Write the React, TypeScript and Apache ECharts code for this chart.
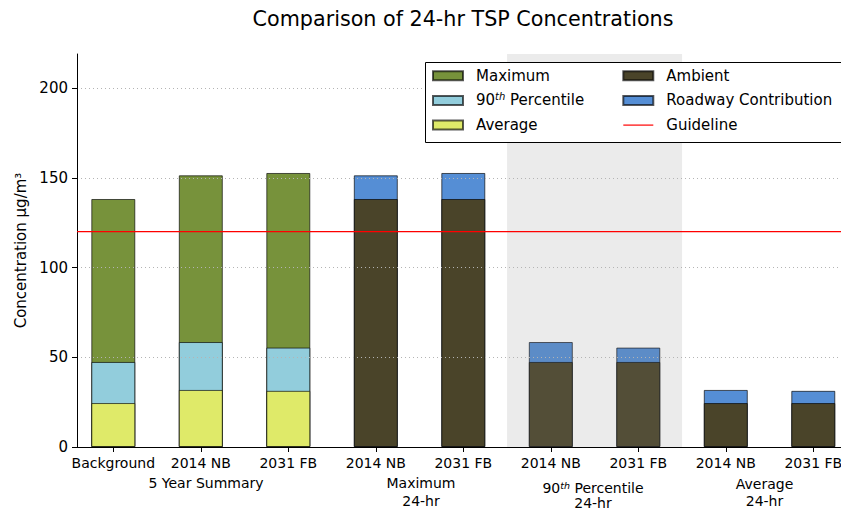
import React, { useEffect, useRef } from 'react';
import * as echarts from 'echarts';

const categories = ['Background', '2014 NB', '2031 FB', '2014 NB', '2031 FB', '2014 NB', '2031 FB', '2014 NB', '2031 FB'];
const summaryPositions = [0, 1, 2];
const summaryAverage = [24.5, 31.8, 31.3];
const summaryP90 = [47.4, 58.5, 55.4];
const summaryMaximum = [138.2, 151.4, 152.7];
const scenarioPositions = [3, 4, 5, 6, 7, 8];
const ambient = [138.2, 138.2, 47.4, 47.4, 24.5, 24.5];
const roadwayContribution = [13.2, 14.5, 11.1, 8.0, 7.3, 6.8];
const guidelineValue = 120;
const yTicks = [0, 50, 100, 150, 200];
const shadedSpan = [4.5, 6.5];
const xExtent = [-0.415, 8.415];

const FONT = 'DejaVu Sans';
const EDGE = 'rgba(0,0,0,0.65)';
const BAR_W = 44;
const RED = '#ff0000';

export default function App() {
  const ref = useRef<HTMLDivElement>(null);

  useEffect(() => {
    if (!ref.current) return;
    const chart = echarts.init(ref.current, null, { renderer: 'svg' });

    const pairs = (xs: number[], ys: number[]) => xs.map((x, i) => [x, ys[i]]);
    const roadwayTops = ambient.map((a, i) => +(a + roadwayContribution[i]).toFixed(2));

    const barBase = (name: string, color: string, data: number[][]) => ({
      name,
      type: 'bar',
      data,
      barWidth: BAR_W,
      barGap: '-100%',
      itemStyle: { color, borderColor: EDGE, borderWidth: 1 },
      emphasis: { disabled: true },
    });

    const legendText = {
      fontFamily: FONT,
      fontSize: 15,
      color: '#000',
      lineHeight: 18,
      padding: [0, 0, 0, 8],
      rich: {
        sup: { fontFamily: FONT, fontSize: 10, fontStyle: 'italic', lineHeight: 9, verticalAlign: 'top', color: '#000' },
      },
    };
    const legendFormatter = (name: string) =>
      name === '90th Percentile' ? '90{sup|th} Percentile' : name;

    const groupText = (text: string, x: number, y: number, z = 10) => ({
      type: 'text',
      x,
      y,
      z,
      style: {
        text,
        fill: '#000',
        fontFamily: FONT,
        fontSize: 14,
        align: 'center',
        verticalAlign: 'middle',
        rich: {
          sup: { fontFamily: FONT, fontSize: 9.5, fontStyle: 'italic', lineHeight: 8, verticalAlign: 'top', fill: '#000' },
        },
      },
    });

    const option: any = {
      animation: false,
      textStyle: { fontFamily: FONT, color: '#000' },
      grid: { left: 77, right: 10.4, top: 54, bottom: 63, containLabel: false },
      xAxis: {
        type: 'value',
        min: xExtent[0],
        max: xExtent[1],
        z: 3,
        axisLine: { show: true, onZero: false, lineStyle: { color: '#000', width: 1 } },
        axisTick: { show: true, length: 5, customValues: categories.map((_, i) => i), lineStyle: { color: '#000' } },
        axisLabel: {
          customValues: categories.map((_, i) => i),
          formatter: (v: number) => categories[Math.round(v)] ?? '',
          fontSize: 14,
          lineHeight: 16,
          margin: 8,
          color: '#000',
          fontFamily: FONT,
        },
        splitLine: { show: false },
      },
      yAxis: {
        type: 'value',
        min: 0,
        max: 219,
        z: 3,
        name: 'Concentration µg/m³',
        nameLocation: 'middle',
        nameRotate: 90,
        nameGap: 47,
        nameTextStyle: { fontFamily: FONT, fontSize: 15, color: '#000' },
        axisLine: { show: true, onZero: false, lineStyle: { color: '#000', width: 1 } },
        axisTick: { show: true, length: 5, customValues: yTicks, lineStyle: { color: '#000' } },
        axisLabel: { customValues: yTicks, fontSize: 15, margin: 9, color: '#000', fontFamily: FONT },
        splitLine: { show: true, lineStyle: { color: '#b4b4b4', width: 1, type: [1, 3] } },
      },
      legend: [
        {
          data: ['Maximum', '90th Percentile', 'Average'],
          orient: 'vertical',
          left: 432,
          top: 66.7,
          padding: 0,
          itemWidth: 30,
          itemHeight: 9,
          itemGap: 6.7,
          icon: 'rect',
          selectedMode: false,
          textStyle: legendText,
          formatter: legendFormatter,
          z: 5,
        },
        {
          data: [
            { name: 'Ambient', icon: 'rect' },
            { name: 'Roadway Contribution', icon: 'rect' },
            {
              name: 'Guideline',
              itemStyle: { color: 'rgba(0,0,0,0)', borderColor: 'rgba(0,0,0,0)', borderWidth: 0 },
              lineStyle: { color: RED, width: 1.2 },
            },
          ],
          orient: 'vertical',
          left: 622.3,
          top: 66.7,
          padding: 0,
          itemWidth: 30,
          itemHeight: 9,
          itemGap: 6.7,
          selectedMode: false,
          textStyle: legendText,
          formatter: legendFormatter,
          z: 5,
        },
      ],
      graphic: [
        {
          type: 'text',
          x: 463,
          y: 19,
          z: 10,
          style: {
            text: 'Comparison of 24-hr TSP Concentrations',
            fill: '#000',
            fontFamily: FONT,
            fontSize: 20.7,
            align: 'center',
            verticalAlign: 'middle',
          },
        },
        {
          type: 'rect',
          z: 4.5,
          shape: { x: 425.5, y: 62.5, width: 440, height: 80 },
          style: { fill: '#fff', stroke: '#000', lineWidth: 1 },
        },
        groupText('5 Year Summary', 206, 483),
        groupText('Maximum', 421, 483),
        groupText('24-hr', 421, 501),
        groupText('90{sup|th} Percentile', 593, 487.5),
        groupText('24-hr', 593, 503),
        groupText('Average', 764.5, 484),
        groupText('24-hr', 764.5, 501),
      ],
      series: [
        barBase('Maximum', '#77923b', pairs(summaryPositions, summaryMaximum)),
        barBase('90th Percentile', '#92cddc', pairs(summaryPositions, summaryP90)),
        barBase('Average', '#dfea69', pairs(summaryPositions, summaryAverage)),
        barBase('Roadway Contribution', '#558ed5', pairs(scenarioPositions, roadwayTops)),
        {
          ...barBase('Ambient', '#4a4429', pairs(scenarioPositions, ambient)),
          markArea: {
            silent: true,
            z: 2.5,
            itemStyle: { color: 'rgba(128,128,128,0.16)', borderWidth: 0 },
            label: { show: false },
            data: [[{ xAxis: shadedSpan[0] }, { xAxis: shadedSpan[1] }]],
          },
        },
        {
          name: 'Guideline',
          type: 'line',
          data: xExtent.map((x) => [x, guidelineValue]),
          symbol: 'none',
          showSymbol: false,
          z: 6,
          color: RED,
          lineStyle: { color: RED, width: 1.2, type: 'solid' },
          itemStyle: { color: RED },
          emphasis: { disabled: true },
          silent: true,
        },
      ],
    };

    chart.setOption(option);
    return () => chart.dispose();
  }, []);

  return (
    <div style={{ position: 'absolute', left: 0, top: 0, width: 841, height: 510, overflow: 'hidden', background: '#fff' }}>
      <div ref={ref} style={{ width: 860, height: 510 }} />
    </div>
  );
}
